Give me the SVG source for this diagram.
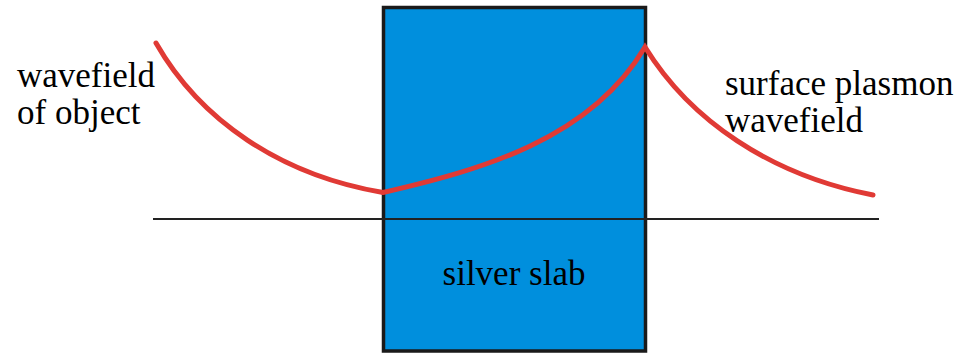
<svg xmlns="http://www.w3.org/2000/svg" width="961" height="353" viewBox="0 0 961 353">
<style>
.lbl{font-family:"Liberation Serif","Times New Roman",serif;font-size:35px;fill:#000}
.curve{fill:none;stroke:#e03a35;stroke-width:5;stroke-linecap:round;stroke-linejoin:miter}
</style>
<rect width="961" height="353" fill="#fff"/>
<g id="slab">
<rect x="383.5" y="7.5" width="262" height="343.5" fill="#008fdd" stroke="#1a1a1a" stroke-width="3.5"/>
<text class="lbl" x="514" y="285" text-anchor="middle">silver slab</text>
</g>
<g id="connectors">
<line x1="153" y1="219" x2="879" y2="219" stroke="#222" stroke-width="2"/>
<path class="curve" d="M156,43 C200,120 280,175 383,192.5 C480,170 590,140 645,47 C690,120 770,175 873,195"/>
</g>
<g id="label-object">
<text class="lbl" x="17" y="87">wavefield</text>
<text class="lbl" x="17" y="124">of object</text>
</g>
<g id="label-plasmon">
<text class="lbl" x="725" y="95">surface plasmon</text>
<text class="lbl" x="725" y="132">wavefield</text>
</g>
</svg>
